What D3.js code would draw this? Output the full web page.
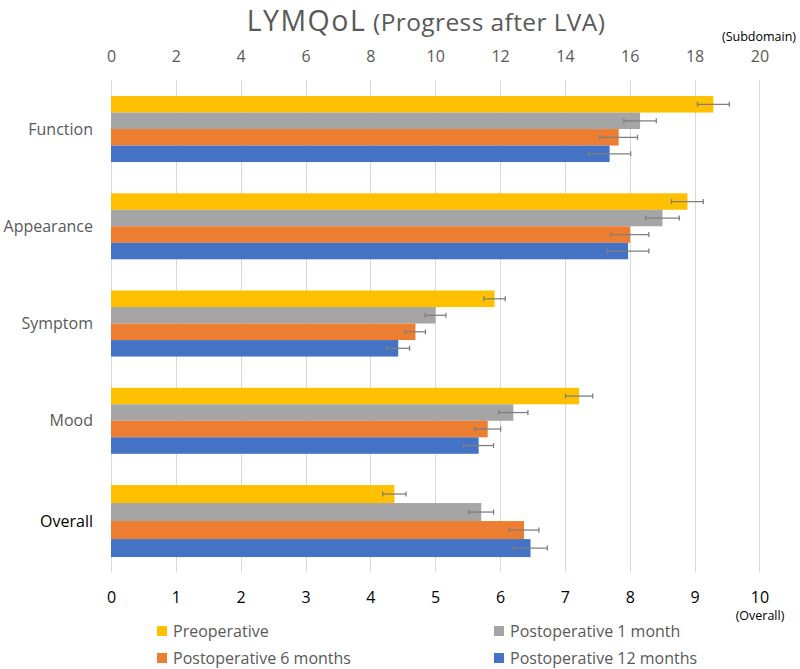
<!DOCTYPE html>
<html>
<head>
<meta charset="utf-8">
<script src="https://cdn.jsdelivr.net/npm/d3@7"></script>
<style>
  html, body { margin: 0; padding: 0; background: #fff; }
  svg { display: block; font-family: "Open Sans", sans-serif; }
</style>
</head>
<body>
<svg id="chart" width="800" height="669"></svg>
<script>
// ---- data ----
const categories = ["Function", "Appearance", "Symptom", "Mood", "Overall"];
const seriesNames = ["Preoperative", "Postoperative 1 month", "Postoperative 6 months", "Postoperative 12 months"];
// subdomain values (0-20 scale) for first four categories, overall (0-10 scale) last
const preoperative   = [18.58, 17.78, 11.83, 14.44, 4.37];
const postop1month   = [16.32, 17.01, 10.01, 12.41, 5.71];
const postop6months  = [15.66, 16.01,  9.39, 11.62, 6.37];
const postop12months = [15.38, 15.95,  8.86, 11.34, 6.47];
const errPreoperative   = [0.49, 0.49, 0.33, 0.42, 0.18];
const errPostop1month   = [0.50, 0.52, 0.32, 0.45, 0.19];
const errPostop6months  = [0.58, 0.58, 0.31, 0.40, 0.23];
const errPostop12months = [0.65, 0.64, 0.35, 0.46, 0.26];
const subdomainTicks = [0, 2, 4, 6, 8, 10, 12, 14, 16, 18, 20];
const overallTicks = [0, 1, 2, 3, 4, 5, 6, 7, 8, 9, 10];
const colors = ["#FFC000", "#A5A5A5", "#ED7D31", "#4472C4"];

const seriesValues = [preoperative, postop1month, postop6months, postop12months];
const seriesErrors = [errPreoperative, errPostop1month, errPostop6months, errPostop12months];

const svg = d3.select("#chart");
const plotLeft = 111, plotRight = 759.4, plotTop = 80, plotBottom = 572;

const xSub = d3.scaleLinear().domain([0, 20]).range([plotLeft, plotRight]);
const xAll = d3.scaleLinear().domain([0, 10]).range([plotLeft, plotRight]);

const y = d3.scaleBand().domain(categories).range([80, 567.1]).paddingInner(0.3213).paddingOuter(0.165);
const yInner = d3.scaleBand().domain(seriesNames).range([0, y.bandwidth()]);
const yInnerOverall = d3.scaleBand().domain(seriesNames).range([0, y.bandwidth() * 72 / 66]);

// title
const title = svg.append("text").attr("x", 426).attr("y", 30.5).attr("text-anchor", "middle").attr("fill", "#595959");
title.append("tspan").attr("font-size", 28.5).attr("letter-spacing", 1.5).text("LYMQoL");
title.append("tspan").attr("font-size", 24.5).attr("letter-spacing", 0.4).text(" (Progress after LVA)");

// gridlines
svg.append("g").selectAll("line").data(subdomainTicks).join("line")
  .attr("x1", d => Math.round(xSub(d)) + 0.5).attr("x2", d => Math.round(xSub(d)) + 0.5)
  .attr("y1", plotTop).attr("y2", plotBottom)
  .attr("stroke", "#D9D9D9").attr("stroke-width", 1);

// top axis
const gTop = svg.append("g").attr("transform", "translate(0,61.5)")
  .call(d3.axisTop(xSub).tickValues(subdomainTicks).tickSize(0).tickPadding(0));
gTop.select(".domain").remove();
gTop.selectAll("text").attr("font-size", 16).attr("fill", "#595959").attr("font-family", "Open Sans");

svg.append("text").attr("x", 759).attr("y", 37).attr("dy", "0.35em").attr("text-anchor", "middle")
  .attr("font-size", 12.5).attr("fill", "#000").text("(Subdomain)");

// bottom axis
const gBot = svg.append("g").attr("transform", "translate(0,592)")
  .call(d3.axisBottom(xAll).tickValues(overallTicks).tickSize(0).tickPadding(0));
gBot.select(".domain").remove();
gBot.selectAll("text").attr("font-size", 16).attr("fill", "#000").attr("font-family", "Open Sans");

svg.append("text").attr("x", 760).attr("y", 616).attr("dy", "0.35em").attr("text-anchor", "middle")
  .attr("font-size", 12.5).attr("fill", "#000").text("(Overall)");

// category labels
svg.append("g").selectAll("text").data(categories).join("text")
  .attr("x", 93)
  .attr("y", (d, i) => y(d) + (i === 4 ? yInnerOverall.range()[1] : y.bandwidth()) / 2)
  .attr("dy", "0.35em").attr("text-anchor", "end")
  .attr("font-size", 16).attr("fill", (d, i) => i === 4 ? "#000" : "#595959")
  .text(d => d);

// bars
const barData = [];
categories.forEach((c, ci) => {
  seriesNames.forEach((s, si) => {
    barData.push({ c, ci, s, si, v: seriesValues[si][ci], e: seriesErrors[si][ci] });
  });
});
const xOf = d => d.ci === 4 ? xAll : xSub;
const yOf = d => d.ci === 4 ? yInnerOverall : yInner;

svg.append("g").selectAll("rect").data(barData).join("rect")
  .attr("x", plotLeft)
  .attr("y", d => y(d.c) + yOf(d)(d.s))
  .attr("width", d => xOf(d)(d.v) - plotLeft)
  .attr("height", d => yOf(d).bandwidth())
  .attr("fill", d => colors[d.si]);

// error bars
const eg = svg.append("g").attr("stroke", "#7F7F7F").attr("stroke-width", 1.3);
barData.forEach(d => {
  const sx = xOf(d);
  const cy = y(d.c) + yOf(d)(d.s) + yOf(d).bandwidth() / 2;
  eg.append("line").attr("x1", sx(d.v - d.e)).attr("x2", sx(d.v + d.e)).attr("y1", cy).attr("y2", cy);
  eg.append("line").attr("x1", sx(d.v - d.e)).attr("x2", sx(d.v - d.e)).attr("y1", cy - 2.5).attr("y2", cy + 2.5);
  eg.append("line").attr("x1", sx(d.v + d.e)).attr("x2", sx(d.v + d.e)).attr("y1", cy - 2.5).attr("y2", cy + 2.5);
});

// legend
const legendPos = [[157, 631], [494, 631], [157, 658], [494, 658]];
const lg = svg.append("g").selectAll("g").data(seriesNames).join("g")
  .attr("transform", (d, i) => `translate(${legendPos[i][0]},${legendPos[i][1]})`);
lg.append("rect").attr("x", 0).attr("y", -5).attr("width", 10).attr("height", 10).attr("fill", (d, i) => colors[i]);
lg.append("text").attr("x", 16).attr("y", 0).attr("dy", "0.35em").attr("font-size", 16).attr("fill", "#595959").text(d => d);
</script>
</body>
</html>
